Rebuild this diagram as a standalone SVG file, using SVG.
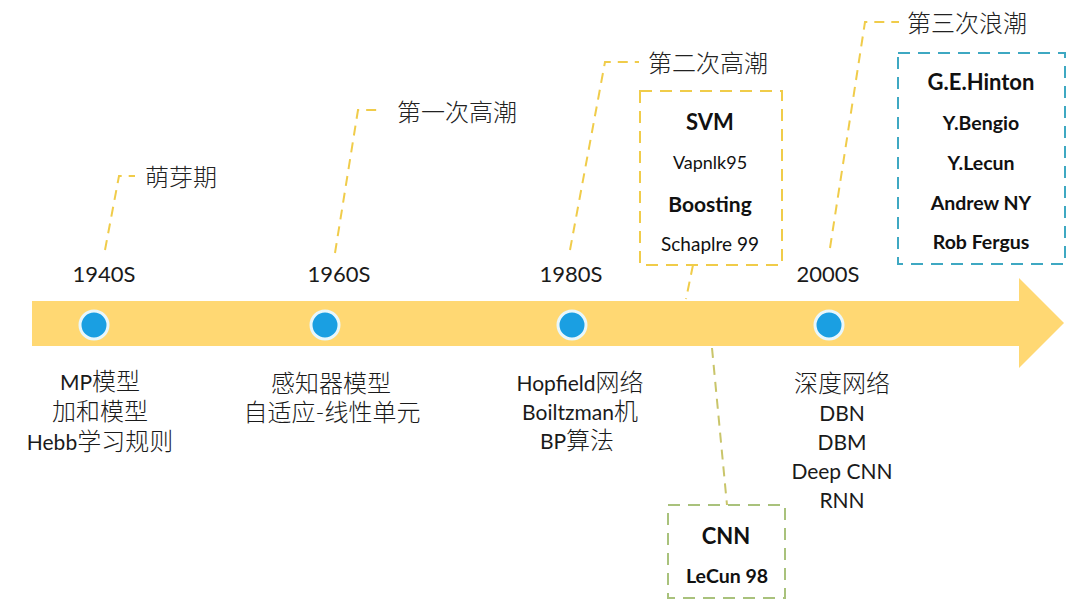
<svg xmlns="http://www.w3.org/2000/svg" width="1086" height="613" viewBox="0 0 1086 613">
<style>
.bg{fill:#ffffff}
.year{font-family:Lato,"Open Sans","Noto Sans CJK SC",sans-serif;font-size:22px;fill:#1a1a1a;text-anchor:middle}
.item{font-family:Lato,"Noto Sans CJK SC",sans-serif;font-size:21px;fill:#1a1a1a;text-anchor:middle}
.z{font-size:24px;font-weight:300}
.cn{font-family:"Noto Sans CJK SC",sans-serif;font-size:24px;fill:#222;font-weight:300}
.b{font-family:Lato,"Noto Sans CJK SC",sans-serif;font-weight:bold;fill:#111;text-anchor:middle}
.r{font-family:Lato,"Noto Sans CJK SC",sans-serif;fill:#111;text-anchor:middle}
.dot{fill:#1a9fe2;stroke:#e8f7fc;stroke-width:3}
.call{fill:none;stroke:#f0cc4a;stroke-width:2;stroke-dasharray:10 7}
.boxY{fill:none;stroke:#f0cc4a;stroke-width:2;stroke-dasharray:12 8}
.boxB{fill:none;stroke:#3ea8c2;stroke-width:2;stroke-dasharray:12 8}
.boxG{fill:none;stroke:#a9c27c;stroke-width:2;stroke-dasharray:12 8}
.callG{fill:none;stroke:#c9c56a;stroke-width:2;stroke-dasharray:10 7}
</style>
<rect class="bg" x="0" y="0" width="1086" height="613"/>
<g id="timeline">
  <polygon points="32,301 1019,301 1019,278 1064,323 1019,368 1019,346 32,346" fill="#ffd873"/>
</g>
<g id="connectors">
  <polyline class="call" points="105,250 119,176 135,176"/>
  <polyline class="call" points="335,253 358,110 381,110"/>
  <polyline class="call" points="570,250 605,62 639,62"/>
  <polyline class="call" points="830,248 865,22 899,22"/>
  <line class="call" x1="693" y1="265" x2="686" y2="299"/>
  <polyline class="callG" points="712,348 727,505"/>
</g>
<g id="n1940">
  <circle class="dot" cx="94" cy="325" r="14"/>
  <text class="year" x="104" y="282">1940S</text>
  <text class="cn" x="145" y="186">萌芽期</text>
  <text class="item" x="100" y="390">MP<tspan class="z">模型</tspan></text>
  <text class="item" x="100" y="420"><tspan class="z">加和模型</tspan></text>
  <text class="item" x="100" y="450">Hebb<tspan class="z">学习规则</tspan></text>
</g>
<g id="n1960">
  <circle class="dot" cx="325" cy="325" r="14"/>
  <text class="year" x="339" y="282">1960S</text>
  <text class="cn" x="397" y="121">第一次高潮</text>
  <text class="item" x="331" y="392"><tspan class="z">感知器模型</tspan></text>
  <text class="item" x="332" y="421"><tspan class="z">自适应-线性单元</tspan></text>
</g>
<g id="n1980">
  <circle class="dot" cx="572" cy="325" r="14"/>
  <text class="year" x="571" y="282">1980S</text>
  <text class="cn" x="648" y="72">第二次高潮</text>
  <text class="item" x="580" y="391">Hopfield<tspan class="z">网络</tspan></text>
  <text class="item" x="580" y="420">Boiltzman<tspan class="z">机</tspan></text>
  <text class="item" x="577" y="449">BP<tspan class="z">算法</tspan></text>
</g>
<g id="n2000">
  <circle class="dot" cx="829" cy="325" r="14"/>
  <text class="year" x="828" y="282">2000S</text>
  <text class="cn" x="907" y="32">第三次浪潮</text>
  <text class="item" x="842" y="392"><tspan class="z">深度网络</tspan></text>
  <text class="item" x="842" y="421">DBN</text>
  <text class="item" x="842" y="450">DBM</text>
  <text class="item" x="842" y="479">Deep CNN</text>
  <text class="item" x="842" y="508">RNN</text>
</g>
<g id="svm">
  <rect class="boxY" x="640" y="91" width="142" height="174"/>
  <text class="b" x="710" y="130" font-size="22">SVM</text>
  <text class="r" x="710" y="169" font-size="18">Vapnlk95</text>
  <text class="b" x="710" y="212" font-size="21">Boosting</text>
  <text class="r" x="710" y="251" font-size="19">Schaplre 99</text>
</g>
<g id="cnn">
  <rect class="boxG" x="668" y="505" width="117" height="93"/>
  <text class="b" x="726" y="544" font-size="22">CNN</text>
  <text class="b" x="727" y="583" font-size="19.5">LeCun 98</text>
</g>
<g id="hinton">
  <rect class="boxB" x="898" y="53" width="167" height="211"/>
  <text class="b" x="981" y="90" font-size="22">G.E.Hinton</text>
  <text class="b" x="981" y="130" font-size="19.5">Y.Bengio</text>
  <text class="b" x="981" y="170" font-size="19.5">Y.Lecun</text>
  <text class="b" x="981" y="210" font-size="19.5">Andrew NY</text>
  <text class="b" x="981" y="249" font-size="19.5">Rob Fergus</text>
</g>
</svg>
